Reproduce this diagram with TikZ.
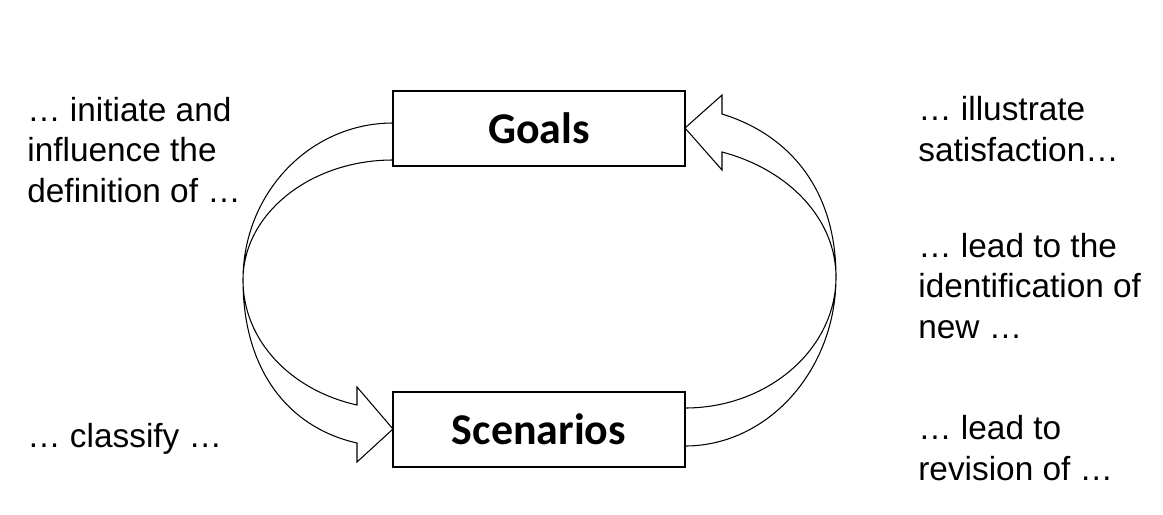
\documentclass[tikz,border=0pt]{standalone}
\usepackage{fontspec}
\setmainfont{Liberation Sans}
\newfontfamily\boxfont{Carlito}
\begin{document}
\begin{tikzpicture}[x=0.02cm,y=-0.02cm,
  lbl/.style={font=\fontsize{19pt}{22.8pt}\selectfont, align=left, inner sep=0pt, anchor=base west},
  boxnode/.style={draw, line width=0.8pt, fill=white, minimum width=5.84cm, minimum height=1.5cm, inner sep=0pt, font=\boxfont\bfseries\fontsize{25pt}{30pt}\selectfont},
  blockarrow/.style={draw, line width=0.6pt, fill=white, line join=miter}]
\useasboundingbox (0,0) rectangle (1163,514);

% left block arrow (Goals -> Scenarios)
\draw[blockarrow] (393,123) .. controls (310,123) and (243,193) .. (243,280)
  .. controls (243,372) and (290,428) .. (357,443)
  -- (357,462) -- (393,429) -- (357,387) -- (357,405)
  .. controls (290,390) and (243,340) .. (243,280)
  .. controls (243,214) and (310,160) .. (393,160) -- cycle;

% right block arrow (Scenarios -> Goals)
\draw[blockarrow] (685,446) .. controls (768,446) and (836,370) .. (836,277)
  .. controls (836,190) and (790,135) .. (722,114)
  -- (722,95) -- (685,128) -- (722,170) -- (722,152)
  .. controls (790,170) and (836,220) .. (836,277)
  .. controls (836,349) and (768,408) .. (685,408) -- cycle;

\node[boxnode] (goals) at (539,128.5) {Goals};
\node[boxnode] (scen) at (539,429.5) {Scenarios};

% anchor = baseline of the last line
\node[lbl] (l1) at (27,202) {… initiate and\\influence the\\definition of …};
\node[lbl] (l2) at (27,447) {… classify …};
\node[lbl] (r1) at (918,161) {… illustrate\\satisfaction…};
\node[lbl] (r2) at (918,338) {… lead to the\\identification of\\new …};
\node[lbl] (r3) at (918,480) {… lead to\\revision of …};
\end{tikzpicture}
\end{document}
